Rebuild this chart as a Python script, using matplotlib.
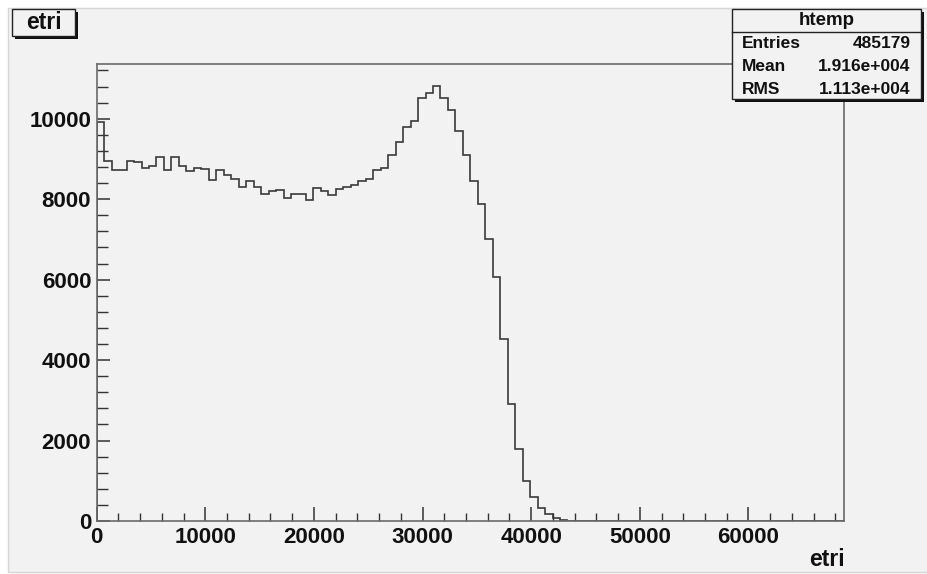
import numpy as np
import matplotlib
matplotlib.use('Agg')
import matplotlib.pyplot as plt
from matplotlib.patches import Rectangle
from matplotlib.ticker import MultipleLocator

# htemp: 100 bins of etri
x_min = 0
x_max = 68800
n_bins = 100
counts = [9910, 8960, 8730, 8730, 8960, 8920, 8780, 8830, 9060, 8730,
          9060, 8830, 8690, 8780, 8750, 8480, 8730, 8610, 8500, 8310,
          8460, 8310, 8130, 8210, 8230, 8030, 8120, 8120, 7990, 8270,
          8210, 8110, 8260, 8310, 8360, 8460, 8500, 8730, 8780, 9110,
          9420, 9800, 9950, 10510, 10630, 10820, 10510, 10220, 9700, 9110,
          8460, 7880, 7000, 6060, 4530, 2920, 1800, 990, 600, 330,
          170, 70, 30, 10]
counts = counts + [0] * (n_bins - len(counts))

stat_labels = ['Entries', 'Mean', 'RMS']
stat_values = ['485179', '1.916e+004', '1.113e+004']
hist_name = 'htemp'
var_name = 'etri'

W, H = 928, 574
BG = '#f2f2f2'
FONT = 'Liberation Sans'


def fx(x):
    return x / W


def fy(y):
    return 1 - y / H


def shadow_box(fig, x0, y0, x1, y1, off=3):
    fig.patches.append(Rectangle((fx(x0 + off), fy(y1 + off)), fx(x1 - x0), (y1 - y0) / H,
                                 transform=fig.transFigure, facecolor='#111111',
                                 edgecolor='none', zorder=5))
    fig.patches.append(Rectangle((fx(x0), fy(y1)), fx(x1 - x0), (y1 - y0) / H,
                                 transform=fig.transFigure, facecolor=BG,
                                 edgecolor='#222222', lw=1.0, zorder=6))


fig = plt.figure(figsize=(W / 100, H / 100), dpi=100)
fig.patch.set_facecolor('white')
fig.patches.append(Rectangle((fx(8), fy(572)), fx(W - 8), (572 - 8) / H,
                             transform=fig.transFigure, facecolor=BG,
                             edgecolor='#d6d6d6', lw=1.0, zorder=-5))

left, right, top, bottom = 96.7, 844, 64, 521
ax = fig.add_axes([fx(left), fy(bottom), fx(right - left), (bottom - top) / H])
ax.set_facecolor(BG)

edges = np.linspace(x_min, x_max, n_bins + 1)
ax.stairs(counts, edges, color='#3a3a3a', lw=1.2, baseline=0)

ax.set_xlim(x_min, x_max)
ax.set_ylim(0, 1.05 * max(counts))

ax.xaxis.set_major_locator(MultipleLocator(10000))
ax.xaxis.set_minor_locator(MultipleLocator(2000))
ax.yaxis.set_major_locator(MultipleLocator(2000))
ax.yaxis.set_minor_locator(MultipleLocator(400))

ax.tick_params(axis='both', which='both', direction='in', colors='#333333',
               top=False, right=False)
ax.tick_params(axis='x', which='major', length=9.8, width=1.1, pad=4)
ax.tick_params(axis='x', which='minor', length=5.5, width=1.0)
ax.tick_params(axis='y', which='major', length=9.6, width=1.1, pad=4)
ax.tick_params(axis='y', which='minor', length=7.7, width=1.0)
for lab in ax.get_xticklabels() + ax.get_yticklabels():
    lab.set_fontfamily(FONT)
    lab.set_fontweight('bold')
    lab.set_fontsize(16)
    lab.set_color('#111111')

for side in ['left', 'bottom', 'top', 'right']:
    ax.spines[side].set_color('#6a6a6a')
    ax.spines[side].set_linewidth(1.2)

fig.text(fx(845), fy(566), var_name, ha='right', va='baseline', fontsize=16.5,
         fontweight='bold', family=FONT, color='#111111')

# title box
shadow_box(fig, 12.3, 9.3, 75, 35.7)
fig.text(fx(43.6), fy(22.5), var_name, ha='center', va='center', fontsize=16.5,
         fontweight='bold', family=FONT, color='#111111', zorder=7)

# stats box
shadow_box(fig, 732.3, 9.3, 920.7, 99.3)
fig.lines.append(plt.Line2D([fx(732.3), fx(920.7)], [fy(31.7), fy(31.7)],
                            transform=fig.transFigure, color='#222222', lw=1.0, zorder=7))
fig.text(fx(826.5), fy(20.5), hist_name, ha='center', va='center', fontsize=13.5,
         fontweight='bold', family=FONT, color='#111111', zorder=7)
for i in range(len(stat_labels)):
    y = 43.5 + i * 22.8
    fig.text(fx(741.5), fy(y), stat_labels[i], ha='left', va='center', fontsize=12.5,
             fontweight='bold', family=FONT, color='#111111', zorder=7)
    fig.text(fx(910.5), fy(y), stat_values[i], ha='right', va='center', fontsize=12.5,
             fontweight='bold', family=FONT, color='#111111', zorder=7)

plt.savefig('out.png', dpi=100, facecolor=fig.get_facecolor())
